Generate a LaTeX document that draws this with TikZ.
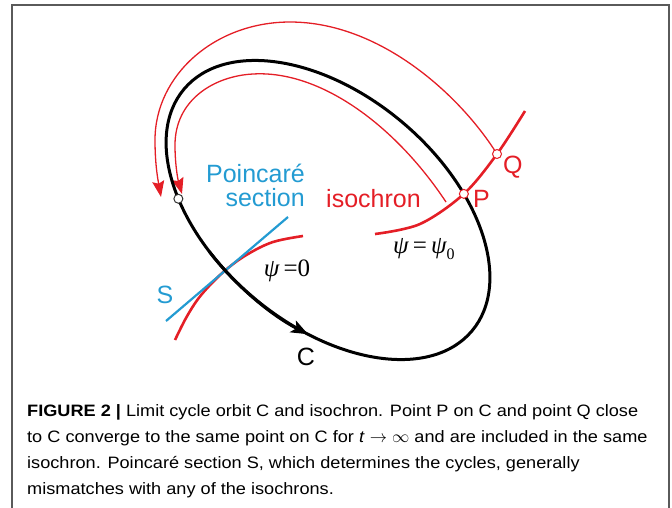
\documentclass[tikz,border=0pt]{standalone}
\usepackage{fontspec}
\setmainfont{Liberation Sans}
\newfontfamily\capfont[FakeStretch=1.1]{Liberation Sans}
\newfontfamily\psifont{Liberation Serif}
\usetikzlibrary{arrows.meta}
\definecolor{cred}{RGB}{228,30,38}
\definecolor{cblue}{RGB}{35,155,210}
\definecolor{framegray}{RGB}{90,90,90}
\begin{document}
\begin{tikzpicture}[x=1pt,y=-1pt,
  orbit/.style={line width=3pt,black},
  thinred/.style={line width=1.3pt,cred},
  thickred/.style={line width=2.6pt,cred},
  sline/.style={line width=2.2pt,cblue},
  dot/.style={circle,fill=white,inner sep=0pt,minimum size=9pt,line width=1pt},
  lab/.style={font=\fontsize{25}{25}\selectfont,inner sep=0pt},
  psilab/.style={font=\psifont\fontsize{25}{25}\selectfont,inner sep=0pt},
  redtip/.style={-{Stealth[length=16pt,width=12pt,inset=2.5pt]}}
]
\useasboundingbox (0,0) rectangle (672,507);
\clip (0,0) rectangle (672,507);
\draw[framegray,line width=1.3pt] (12,530) -- (12,5) -- (669,5) -- (669,530);

% points on the limit cycle
\begin{scope}[shift={(328,210)},rotate=-40]
  \coordinate (Lpt) at (229.6:188pt and 115pt);
  \coordinate (Ppt) at (60.1:188pt and 115pt);
\end{scope}
\coordinate (Qpt) at (497,154);
\coordinate (i0) at (446,202);
\coordinate (o1) at (161,197);
\coordinate (i1) at (182,194);
\coordinate (s0) at (288,217);
\coordinate (s1) at (166,321);

% red trajectories
\draw[thinred,redtip] (Qpt) .. controls (460,95) and (380,22) .. (290,22)
  .. controls (215,22) and (155,75) .. (155,140)
  .. controls (155,165) and (158,180) .. (o1);
\draw[thinred,redtip] (i0) .. controls (395,125) and (320,70) .. (253,74)
  .. controls (214,76) and (175,100) .. (175,145)
  .. controls (175,165) and (178,180) .. (i1);

% isochrons
\draw[thickred] plot[smooth,tension=0.55] coordinates {(375,234) (420,224) (Ppt) (Qpt) (525,111)};
\draw[thickred] plot[smooth,tension=0.6] coordinates {(175,340) (186,318) (198,299) (212,283) (228,268) (248,254) (273,242) (303,236)};

% Poincare section
\draw[sline] (s0) -- (s1);

% limit cycle C
\begin{scope}[shift={(328,210)},rotate=-40]
  \draw[orbit] (0,0) ellipse [x radius=188pt, y radius=115pt];
  \draw[orbit,-{Stealth[length=17pt,width=13pt,inset=4pt]}] (250:188pt and 115pt) arc[start angle=250,end angle=290.1,x radius=188pt,y radius=115pt];
\end{scope}

% marked points
\node[dot,draw=black!80] (L) at (Lpt) {};
\node[dot,draw=cred] (P) at (Ppt) {};
\node[dot,draw=cred] (Q) at (Qpt) {};

% labels
\node[lab,text=cblue,anchor=base east] (poin) at (305,182) {Poincaré};
\node[lab,text=cblue,anchor=base east] (sect) at (305,206) {section};
\node[lab,text=cred,anchor=base west] (iso) at (326,207) {isochron};
\node[lab,text=cred,anchor=base west] (plab) at (473,207) {P};
\node[lab,text=cred,anchor=base west] (qlab) at (503,173) {Q};
\node[lab,text=cblue,anchor=base] (slab) at (165,303) {S};
\node[lab,anchor=base] (clab) at (306,365) {C};
\node[psilab,anchor=base] (psi0) at (287,276) {\itshape ψ\upshape\,=0};
\node[psilab,anchor=base west] (psi1) at (393,253) {\itshape ψ\upshape\,=\,\itshape ψ\upshape\raisebox{-6pt}{\fontsize{16}{16}\selectfont 0}};

% caption
\node[anchor=base west,inner sep=0pt] (cap) at (27,416) {\parbox[t]{640pt}{\raggedright\capfont\fontsize{16.5}{26}\selectfont
\textbf{FIGURE 2 |} Limit cycle orbit C and isochron. Point P on C and point Q close\\
to C converge to the same point on C for \textit{t} $\rightarrow$ $\infty$ and are included in the same\\
isochron. Poincaré section S, which determines the cycles, generally\\
mismatches with any of the isochrons.}};
\end{tikzpicture}
\end{document}
